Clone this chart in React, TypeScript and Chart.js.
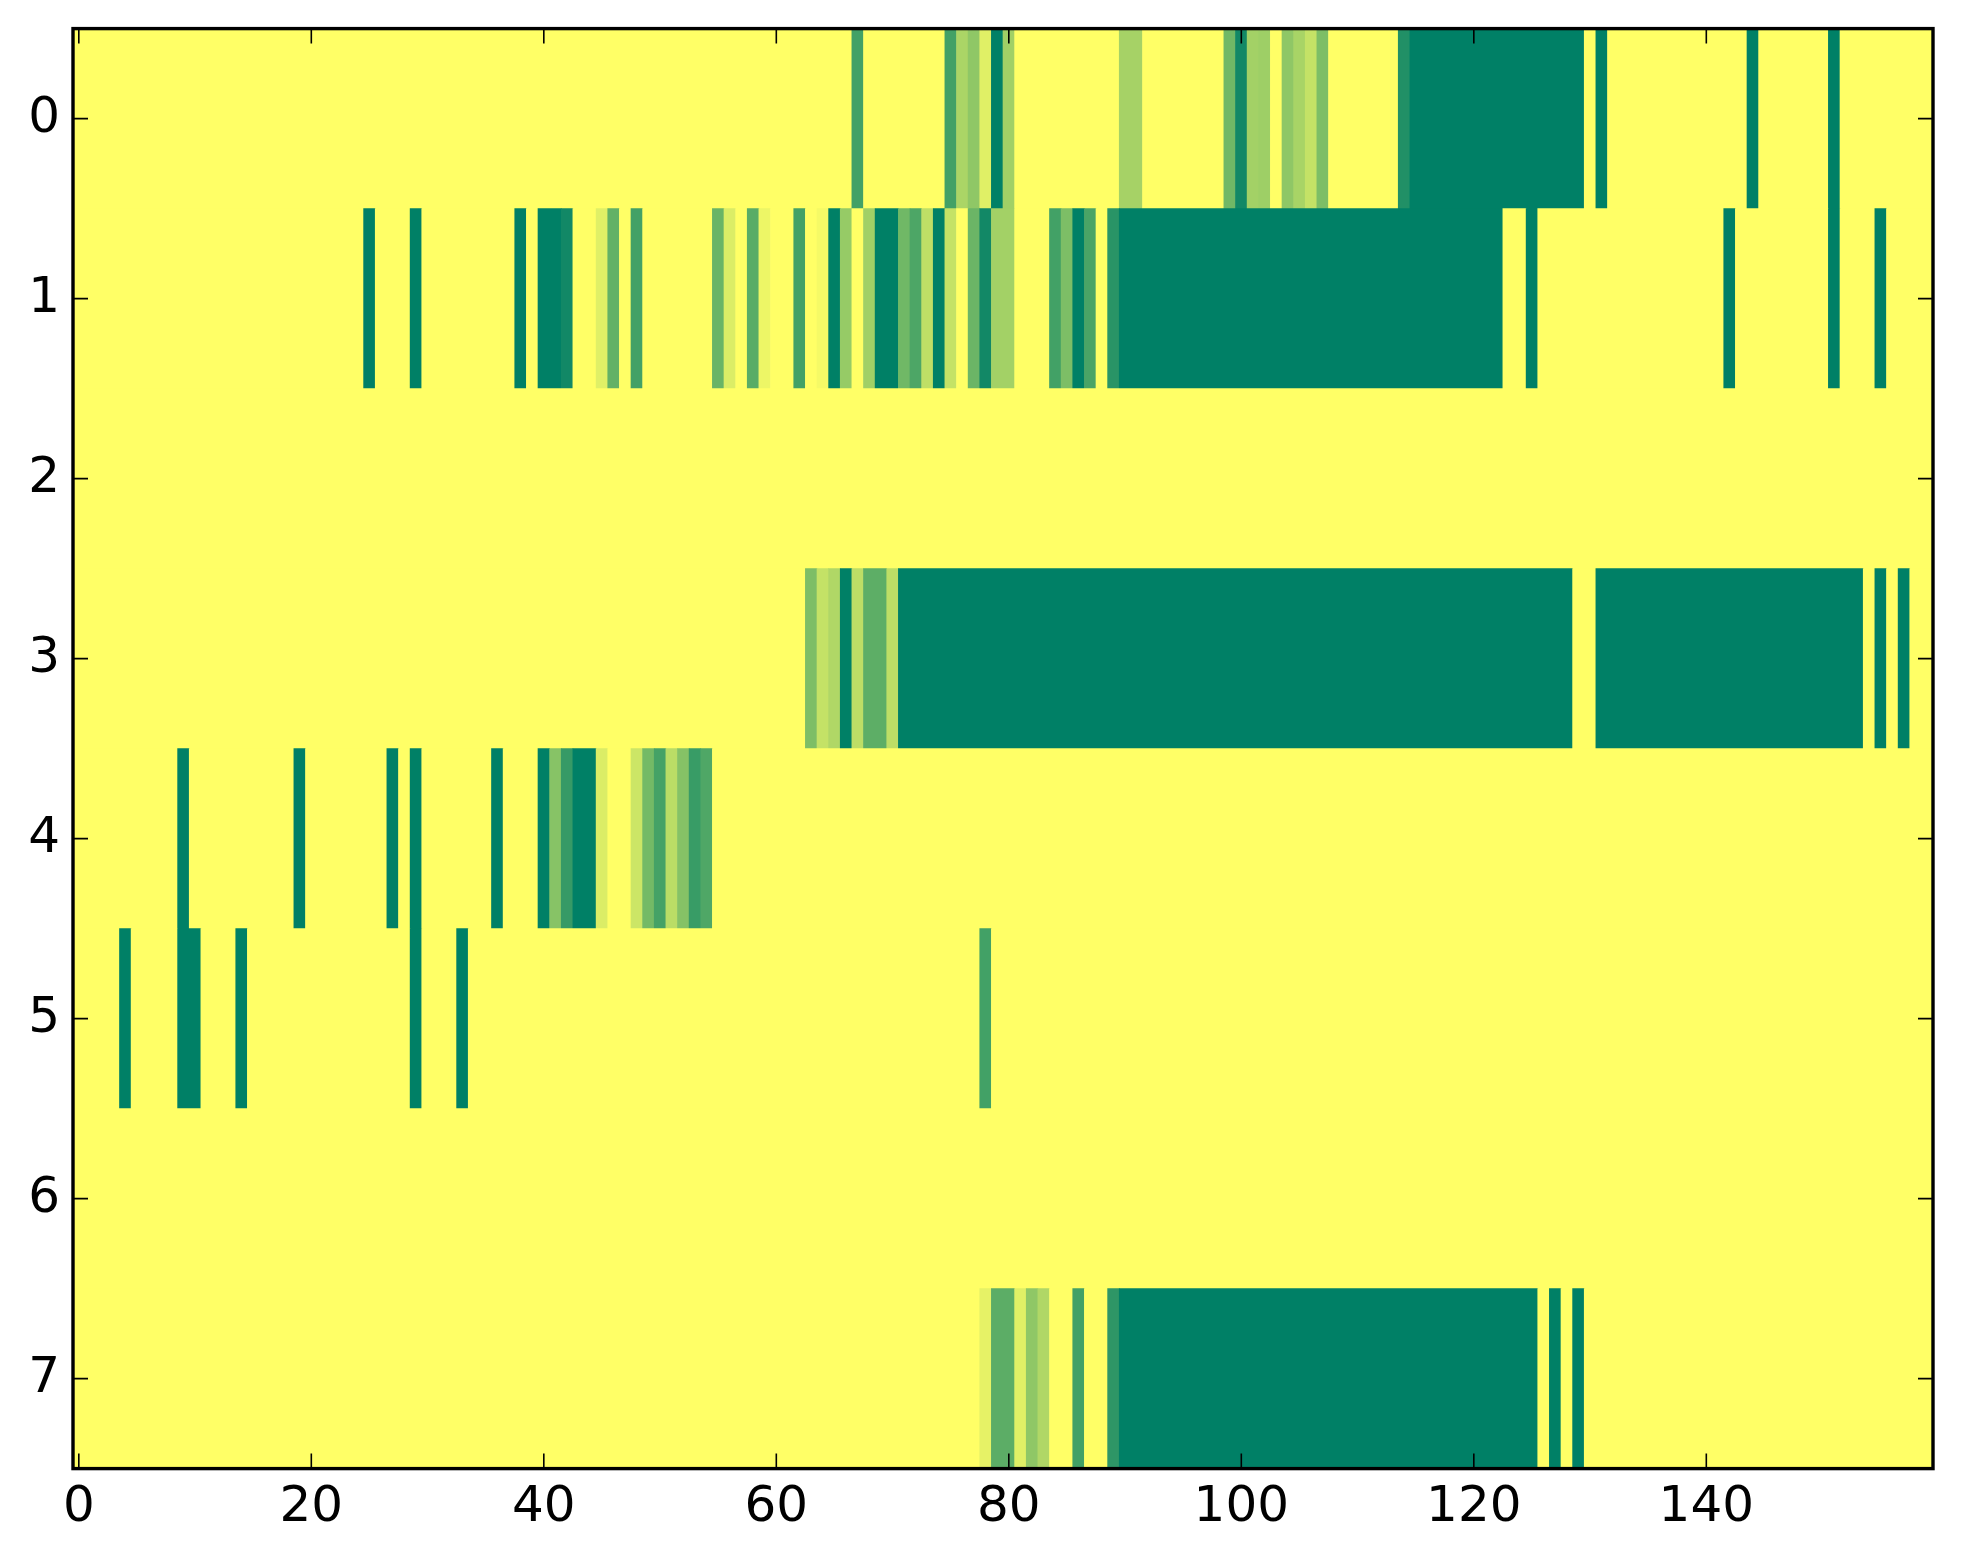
import React, { useEffect, useRef } from "react";
import { Chart, registerables } from "chart.js";

Chart.register(...registerables);

// ---- data ----
// number of columns in the image (0..159)
const nCols = 160;
const rowLabels = ["0", "1", "2", "3", "4", "5", "6", "7"];
const xTicks = [0, 20, 40, 60, 80, 100, 120, 140];

// each row: runs of [firstCol, lastCol, value] (value 0..1; every other cell is 0)
const row0: [number, number, number][] = [
  [67, 67, 0.74], [75, 75, 0.74], [76, 76, 0.33], [77, 77, 0.44], [78, 78, 0.12],
  [79, 79, 1], [80, 80, 0.37], [90, 91, 0.35], [99, 99, 0.56], [100, 100, 0.93],
  [101, 101, 0.36], [102, 102, 0.38], [104, 104, 0.44], [105, 105, 0.34],
  [106, 106, 0.23], [107, 107, 0.51], [114, 114, 0.87], [115, 129, 1],
  [131, 131, 1], [144, 144, 1], [151, 151, 1],
];
const row1: [number, number, number][] = [
  [25, 25, 1], [29, 29, 1], [38, 38, 1], [40, 41, 1], [42, 42, 0.93],
  [45, 45, 0.12], [46, 46, 0.61], [48, 48, 0.74], [55, 55, 0.59], [56, 56, 0.14],
  [58, 58, 0.65], [59, 59, 0.07], [62, 62, 0.74], [64, 64, 0.04], [65, 65, 1],
  [66, 66, 0.41], [68, 68, 0.37], [69, 70, 1], [71, 71, 0.56], [72, 72, 0.7],
  [73, 73, 0.25], [74, 74, 1], [75, 75, 0.23], [77, 77, 0.58], [78, 78, 0.93],
  [79, 80, 0.36], [84, 84, 0.74], [85, 85, 0.51], [86, 86, 1], [87, 87, 0.71],
  [89, 89, 0.84], [90, 122, 1], [125, 125, 1], [142, 142, 1], [151, 151, 1],
  [155, 155, 1],
];
const row2: [number, number, number][] = [];
const row3: [number, number, number][] = [
  [63, 63, 0.51], [64, 64, 0.23], [65, 65, 0.31], [66, 66, 1], [67, 67, 0.26],
  [68, 69, 0.635], [70, 70, 0.26], [71, 128, 1], [131, 153, 1], [155, 155, 1],
  [157, 157, 1],
];
const row4: [number, number, number][] = [
  [9, 9, 1], [19, 19, 1], [27, 27, 1], [29, 29, 1], [36, 36, 1], [40, 40, 1],
  [41, 41, 0.47], [42, 42, 0.79], [43, 44, 1], [45, 45, 0.14], [48, 48, 0.2],
  [49, 49, 0.545], [50, 50, 0.73], [51, 51, 0.27], [52, 52, 0.48],
  [53, 53, 0.78], [54, 54, 0.69],
];
const row5: [number, number, number][] = [
  [4, 4, 1], [9, 10, 1], [14, 14, 1], [29, 29, 1], [33, 33, 1], [78, 78, 0.74],
];
const row6: [number, number, number][] = [];
const row7: [number, number, number][] = [
  [78, 78, 0.1], [79, 80, 0.64], [81, 81, 0.12], [82, 82, 0.44], [83, 83, 0.31],
  [86, 86, 0.74], [89, 89, 0.82], [90, 125, 1], [127, 127, 1], [129, 129, 1],
];
const rows = [row0, row1, row2, row3, row4, row5, row6, row7];

// matplotlib "summer_r" colormap
function summerR(v: number): string {
  const r = Math.round(255 * (1 - v));
  const g = Math.round(255 * (1 - 0.5 * v));
  return `rgb(${r},${g},102)`;
}

function buildBars() {
  const bars: { x: [number, number]; y: string }[] = [];
  const colors: string[] = [];
  rows.forEach((runs, r) => {
    const cells = new Array(nCols).fill(0);
    runs.forEach(([a, b, v]) => {
      for (let c = a; c <= b; c++) cells[c] = v;
    });
    let start = 0;
    for (let c = 1; c <= nCols; c++) {
      if (c === nCols || cells[c] !== cells[start]) {
        bars.push({ x: [start - 0.5, c - 0.5], y: rowLabels[r] });
        colors.push(summerR(cells[start]));
        start = c;
      }
    }
  });
  return { bars, colors };
}

const W = 1963;
const H = 1564;
const FONT = { family: "'DejaVu Sans', sans-serif", size: 50 };

const framePlugin = {
  id: "frameTicks",
  afterDraw(chart: any) {
    const { ctx, chartArea, scales } = chart;
    const { left, right, top, bottom } = chartArea;
    ctx.save();
    ctx.strokeStyle = "#000";
    ctx.lineWidth = 1.6;
    const tl = 15;
    ctx.beginPath();
    xTicks.forEach((v) => {
      const px = scales.x.getPixelForValue(v);
      ctx.moveTo(px, bottom);
      ctx.lineTo(px, bottom - tl);
      ctx.moveTo(px, top);
      ctx.lineTo(px, top + tl);
    });
    rowLabels.forEach((_, i) => {
      const py = scales.y.getPixelForValue(i);
      ctx.moveTo(left, py);
      ctx.lineTo(left + tl, py);
      ctx.moveTo(right, py);
      ctx.lineTo(right - tl, py);
    });
    ctx.stroke();
    ctx.lineWidth = 3.4;
    ctx.strokeRect(left, top, right - left, bottom - top);
    ctx.restore();
  },
};

export default function App() {
  const ref = useRef<HTMLCanvasElement | null>(null);
  useEffect(() => {
    if (!ref.current) return;
    const { bars, colors } = buildBars();
    const chart = new Chart(ref.current, {
      type: "bar",
      data: {
        labels: rowLabels,
        datasets: [
          {
            data: bars as any,
            backgroundColor: colors,
            borderWidth: 0,
            grouped: false,
            barPercentage: 1,
            categoryPercentage: 1,
          } as any,
        ],
      },
      options: {
        indexAxis: "y",
        animation: false,
        responsive: false,
        devicePixelRatio: 1,
        layout: { padding: { top: 28.6, right: 30, left: 0, bottom: 0 } },
        plugins: { legend: { display: false }, tooltip: { enabled: false } },
        scales: {
          x: {
            type: "linear",
            position: "bottom",
            min: -0.5,
            max: nCols - 0.5,
            afterBuildTicks: (s: any) => {
              s.ticks = xTicks.map((v) => ({ value: v }));
            },
            afterFit: (s: any) => {
              s.height = H - 1468.6;
              s.paddingLeft = 0;
              s.paddingRight = 0;
            },
            grid: { display: false, drawTicks: false },
            border: { display: false },
            ticks: {
              font: FONT,
              color: "#000",
              padding: 9,
              maxRotation: 0,
              autoSkip: false,
            },
          },
          y: {
            type: "category",
            offset: true,
            afterFit: (s: any) => {
              s.width = 73;
              s.paddingTop = 0;
              s.paddingBottom = 0;
            },
            grid: { display: false, drawTicks: false },
            border: { display: false },
            ticks: { font: FONT, color: "#000", padding: 13 },
          },
        },
      } as any,
      plugins: [framePlugin],
    });
    return () => chart.destroy();
  }, []);
  return (
    <div
      style={{
        position: "fixed",
        left: 0,
        top: 0,
        width: W,
        height: H,
        background: "#fff",
      }}
    >
      <canvas ref={ref} width={W} height={H} style={{ display: "block" }} />
    </div>
  );
}
